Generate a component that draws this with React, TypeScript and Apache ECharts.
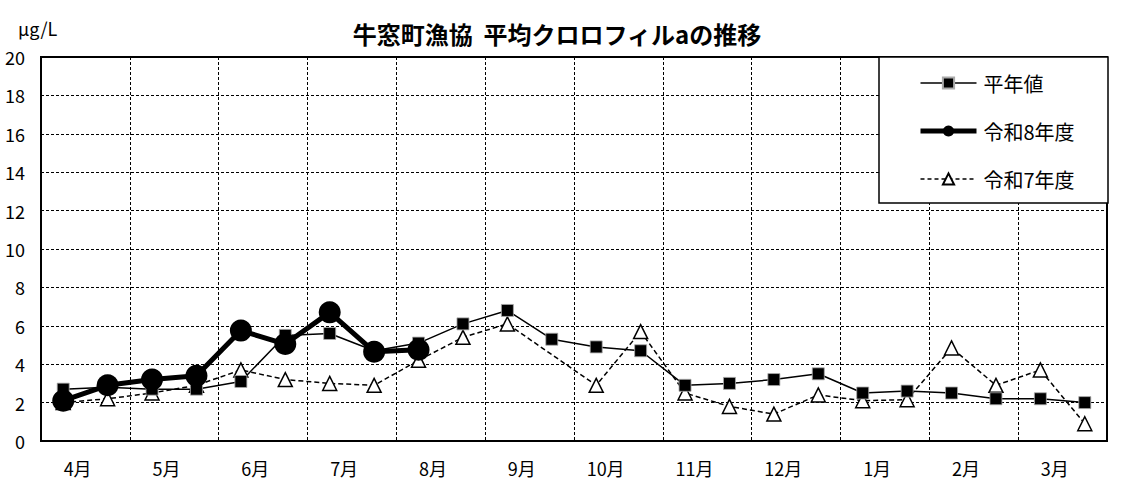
import React, { useEffect, useRef } from "react";
import * as echarts from "echarts";

const months = ["4月", "5月", "6月", "7月", "8月", "9月", "10月", "11月", "12月", "1月", "2月", "3月"];
const periods = months.flatMap((m) => [`${m}|前半`, `${m}|後半`]);

const normalValues = [2.7, 2.8, 2.7, 2.7, 3.1, 5.5, 5.6, 4.7, 5.1, 6.1, 6.8, 5.3, 4.9, 4.7, 2.9, 3.0, 3.2, 3.5, 2.5, 2.6, 2.5, 2.2, 2.2, 2.0];
const r8Values = [2.1, 2.9, 3.2, 3.4, 5.75, 5.05, 6.7, 4.65, 4.75, null, null, null, null, null, null, null, null, null, null, null, null, null, null, null];
const r7Values = [2.0, 2.2, 2.5, 2.9, 3.7, 3.2, 3.0, 2.9, 4.2, 5.4, 6.1, null, 2.9, 5.7, 2.5, 1.8, 1.4, 2.4, 2.1, 2.15, 4.85, 2.9, 3.7, 0.9];

const FONT = "'Noto Sans CJK JP', 'Noto Sans', sans-serif";

export default function App() {
  const ref = useRef<HTMLDivElement>(null);
  useEffect(() => {
    document.body.style.margin = "0";
    const chart = echarts.init(ref.current!, null, { renderer: "svg" });
    chart.setOption({
      animation: false,
      backgroundColor: "#fff",
      textStyle: { fontFamily: FONT, color: "#000" },
      title: {
        text: "牛窓町漁協  平均クロロフィルaの推移",
        left: 557,
        textAlign: "center",
        top: 21,
        padding: 0,
        textStyle: { fontFamily: FONT, fontSize: 24, fontWeight: "bold", color: "#000" },
      },
      graphic: [
        {
          type: "text",
          left: 18,
          top: 19,
          style: { text: "μg/L", fontFamily: FONT, fontSize: 18, fill: "#000" },
        },
        {
          type: "rect",
          shape: { x: 879, y: 57, width: 229, height: 146 },
          style: { fill: "#fff", stroke: "#000", lineWidth: 1.5 },
          z: 3,
        },
      ],
      legend: {
        orient: "vertical",
        left: 918,
        top: 73,
        padding: 0,
        itemWidth: 56,
        itemHeight: 14,
        itemGap: 28,
        z: 5,
        data: [
          { name: "平年値", lineStyle: { width: 1.5, color: "#000" } },
          { name: "令和8年度", lineStyle: { width: 5, color: "#000" } },
          { name: "令和7年度", lineStyle: { width: 1.5, color: "#000", type: [4, 3] } },
        ],
        textStyle: { fontFamily: FONT, fontSize: 20, color: "#000", padding: [0, 0, 0, 2] },
      },
      grid: {
        left: 41,
        right: 22,
        top: 57,
        bottom: 55,
        show: true,
        borderColor: "#000",
        borderWidth: 2,
        containLabel: false,
      },
      xAxis: [
        {
          type: "category",
          data: periods,
          boundaryGap: true,
          axisLine: { show: false },
          axisTick: { show: false },
          splitLine: { show: false },
          axisLabel: {
            interval: (index: number) => index % 2 === 1,
            formatter: (v: string) => v.split("|")[0],
            align: "right",
            padding: [0, 16, 0, 0],
            margin: 18,
            fontSize: 18,
            fontFamily: FONT,
            color: "#000",
          },
        },
        {
          type: "category",
          data: months,
          position: "bottom",
          boundaryGap: true,
          axisLine: { show: false },
          axisTick: { show: false },
          axisLabel: { show: false },
          splitLine: { show: true, interval: 0, lineStyle: { color: "#000", type: [3, 2], width: 1 } },
        },
      ],
      yAxis: {
        type: "value",
        min: 0,
        max: 20,
        interval: 2,
        axisLine: { show: false },
        axisTick: { show: false },
        axisLabel: { fontSize: 18, fontFamily: FONT, color: "#000", margin: 16 },
        splitLine: { show: true, lineStyle: { color: "#000", type: [3, 2], width: 1 } },
      },
      series: [
        {
          name: "令和7年度",
          type: "line",
          xAxisIndex: 0,
          data: r7Values,
          connectNulls: true,
          symbol: "triangle",
          symbolSize: 14,
          lineStyle: { color: "#000", width: 1.5, type: [5, 3] },
          itemStyle: { color: "#fff", borderColor: "#000", borderWidth: 1.5 },
        },
        {
          name: "平年値",
          type: "line",
          xAxisIndex: 0,
          data: normalValues,
          symbol: "rect",
          symbolSize: 12,
          lineStyle: { color: "#000", width: 1.5 },
          itemStyle: { color: "#000", borderColor: "#aaa", borderWidth: 0.8 },
        },
        {
          name: "令和8年度",
          type: "line",
          xAxisIndex: 0,
          data: r8Values,
          symbol: "circle",
          symbolSize: 22,
          lineStyle: { color: "#000", width: 5 },
          itemStyle: { color: "#000" },
        },
      ],
    });
    return () => chart.dispose();
  }, []);
  return <div ref={ref} style={{ width: 1129, height: 496 }} />;
}
